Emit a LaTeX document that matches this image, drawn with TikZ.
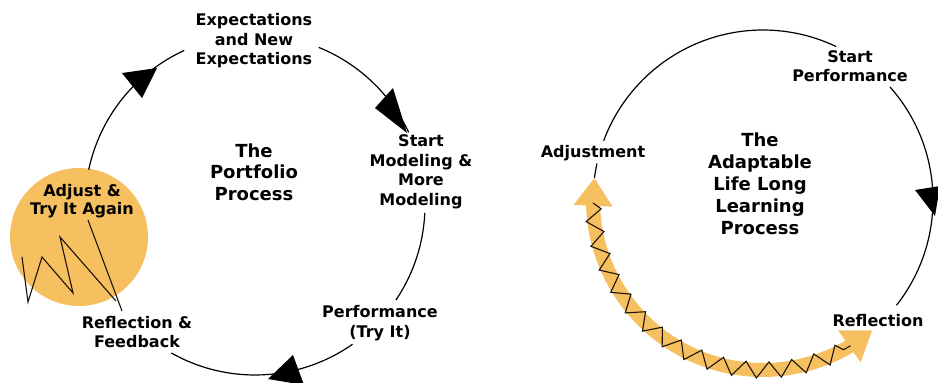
\documentclass[tikz,border=0pt]{standalone}
\usepackage{fontspec}
\setmainfont{DejaVu Sans}
\usetikzlibrary{arrows.meta,bending,decorations.pathmorphing}
\definecolor{gold}{RGB}{246,192,96}
\begin{document}
\begin{tikzpicture}[x=1pt,y=1pt,
  lbl/.style={font=\bfseries\fontsize{16}{19.5}\selectfont, align=center, inner sep=0pt},
  ttl/.style={font=\bfseries\fontsize{18}{21.5}\selectfont, align=center, inner sep=0pt},
  ring/.style={line width=1.2pt, draw=black},
  head/.style={fill=black},
  zig/.style={line width=1.1pt, draw=black!85!brown, line join=miter}]
\useasboundingbox (0,0) rectangle (938,-383);

% ---------- left diagram ----------
\coordinate (L) at (255,-205);
\node[circle, fill=gold, minimum size=138pt, inner sep=0pt] (blob) at (79,-237) {};

\draw[ring] (L) ++(168:170) arc[start angle=168, end angle=114.6, radius=170];
\draw[ring] (L) ++(68:170) arc[start angle=68, end angle=25.3, radius=170];
\draw[ring] (L) ++(-2.7:170) arc[start angle=-2.7, end angle=-34, radius=170];
\draw[ring] (L) ++(-55:170) arc[start angle=-55, end angle=-119.5, radius=170];

\fill[head] (122,-73) -- (157,-68) -- (142,-98) -- cycle;
\fill[head] (375,-108) -- (393,-88) -- (407,-133) -- cycle;
\fill[head] (268,-379) -- (293,-355) -- (304,-385) -- cycle;

\coordinate (z0) at (22,-257);
\coordinate (z6) at (88,-220);
\coordinate (z7) at (122,-311);
\draw[zig] (z0) -- (28,-302) -- (42,-257) -- (73,-293) -- (60,-237) -- (116,-301);
\draw[zig] (z6) -- (z7);

\node[lbl] (exp) at (254,-41) {Expectations\\and New\\Expectations};
\node[lbl] (smm) at (421,-172) {Start\\Modeling \&\\More\\Modeling};
\node[lbl] (perf) at (380,-323) {Performance\\(Try It)};
\node[lbl] (refl) at (137,-332) {Reflection \&\\Feedback};
\node[ttl] (port) at (254,-172) {The\\Portfolio\\Process};
\node[lbl, font=\bfseries\fontsize{16}{18}\selectfont] (again) at (82,-201) {Adjust \&\\Try It Again};

% ---------- right diagram ----------
\coordinate (R) at (763,-200);
\draw[gold, line width=14pt, {Triangle[length=28pt,width=37pt]}-{Triangle[length=28pt,width=37pt]}]
  (R) ++(172.5:170) arc[start angle=172.5, end angle=310, radius=170];
\draw[zig, decorate, decoration={zigzag, segment length=24pt, amplitude=8pt}]
  (R) ++(181:170) arc[start angle=181, end angle=301, radius=170];

\draw[ring] (R) ++(159.6:170) arc[start angle=159.6, end angle=64.5, radius=170];
\draw[ring] (R) ++(41.7:170) arc[start angle=41.7, end angle=-38.3, radius=170];
\draw[ring] (R) ++(167.6:170) arc[start angle=167.6, end angle=172.5, radius=170];
\fill[head] (915,-190) -- (940,-186) -- (935,-216) -- cycle;

\node[lbl] (sp) at (850,-66) {Start\\Performance};
\node[lbl] (adjm) at (593,-153) {Adjustment};
\node[ttl, font=\bfseries\fontsize{18}{22}\selectfont] (alp) at (760,-184) {The\\Adaptable\\Life Long\\Learning\\Process};
\node[lbl] (rfl) at (878,-321) {Reflection};
\end{tikzpicture}
\end{document}
